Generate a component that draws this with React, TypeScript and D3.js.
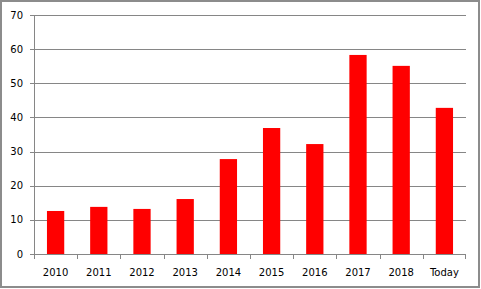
import React from "react";
import * as d3 from "d3";

const categories = ["2010", "2011", "2012", "2013", "2014", "2015", "2016", "2017", "2018", "Today"];
const values = [12.6, 13.8, 13.2, 16.1, 27.8, 36.9, 32.2, 58.3, 55.1, 42.8];
const yTicks = [0, 10, 20, 30, 40, 50, 60, 70];

const W = 481;
const H = 289;
const left = 34;
const right = 466;
const top = 15;
const bottom = 254;

export default function App() {
  const x = d3.scaleBand<string>().domain(categories).range([left, right]).paddingInner(0.6).paddingOuter(0.3);
  const band = d3.scaleBand<string>().domain(categories).range([left, right]);
  const y = d3.scaleLinear().domain([0, 70]).range([bottom, top]);
  const font = "DejaVu Sans, Verdana, sans-serif";
  const grid = "#868686";
  return (
    <svg width={W} height={H} style={{ position: "absolute", left: 0, top: 0, background: "#fff" }}>
      <rect x={1} y={1} width={478} height={286} fill="#fff" stroke="#8c8c8c" strokeWidth={2} />
      {yTicks.map((t) => (
        <g key={t}>
          <line x1={30} x2={right} y1={Math.round(y(t)) + 0.5} y2={Math.round(y(t)) + 0.5} stroke={grid} strokeWidth={1} />
          <text x={23} y={y(t)} dy="0.35em" textAnchor="end" fontFamily={font} fontSize={10} fill="#000">
            {t}
          </text>
        </g>
      ))}
      {categories.map((c, i) => (
        <rect key={c} x={x(c)!} y={y(values[i])} width={x.bandwidth()} height={y(0) - y(values[i])} fill="#ff0000" />
      ))}
      <line x1={left + 0.5} x2={left + 0.5} y1={top} y2={bottom} stroke={grid} />
      {categories.map((c) => (
        <line key={"t" + c} x1={Math.round(band(c)!) + 0.5} x2={Math.round(band(c)!) + 0.5} y1={bottom} y2={bottom + 5} stroke={grid} />
      ))}
      <line x1={right - 0.5} x2={right - 0.5} y1={bottom} y2={bottom + 5} stroke={grid} />
      {categories.map((c) => (
        <text key={"l" + c} x={band(c)! + band.bandwidth() / 2} y={272} dy="0.35em" textAnchor="middle" fontFamily={font} fontSize={10} fill="#000">
          {c}
        </text>
      ))}
    </svg>
  );
}
